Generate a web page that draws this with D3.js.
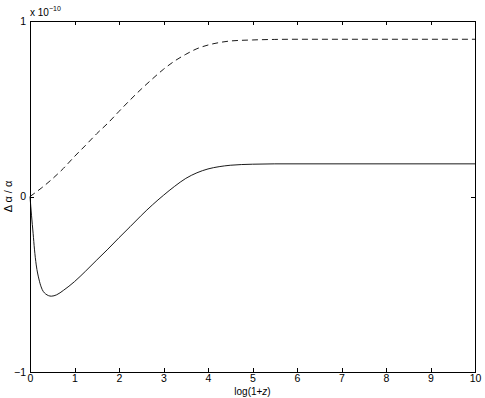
<!DOCTYPE html>
<html>
<head>
<meta charset="utf-8">
<script src="https://cdn.jsdelivr.net/npm/d3@7"></script>
<style>
  body { margin: 0; background: #fff; }
  text { font-family: "Liberation Sans", Arial, sans-serif; fill: #000; }
</style>
</head>
<body>
<svg id="chart" width="485" height="398"></svg>
<script>
// data, y in units of 1e-10
const xTicks = [0, 1, 2, 3, 4, 5, 6, 7, 8, 9, 10];
const yTicks = [-1, 0, 1];

const dashX = [0, 0.25, 0.5, 0.75, 1.0, 1.25, 1.5, 1.75, 2.0, 2.25, 2.5, 2.75, 3.0, 3.25, 3.5, 3.75, 4.0, 4.25, 4.5, 5.0, 5.5, 6.0, 10];
const dashY = [0, 0.047, 0.1, 0.16, 0.228, 0.292, 0.358, 0.418, 0.485, 0.55, 0.612, 0.67, 0.725, 0.772, 0.81, 0.842, 0.863, 0.877, 0.886, 0.892, 0.895, 0.896, 0.896];

const solidX = [0, 0.035, 0.07, 0.1, 0.14, 0.2, 0.25, 0.35, 0.48, 0.6, 0.75, 1.0, 1.25, 1.5, 1.75, 2.0, 2.25, 2.5, 2.75, 3.0, 3.25, 3.5, 3.75, 4.0, 4.25, 4.5, 5.0, 5.5, 6.0, 10];
const solidY = [0, -0.11, -0.21, -0.3, -0.39, -0.47, -0.515, -0.555, -0.568, -0.56, -0.535, -0.485, -0.425, -0.362, -0.3, -0.235, -0.172, -0.108, -0.048, 0.007, 0.058, 0.103, 0.135, 0.157, 0.17, 0.178, 0.184, 0.186, 0.186, 0.186];

var margin = {top: 21, right: 10, bottom: 26, left: 30},
    width = 485 - margin.left - margin.right,
    height = 398 - margin.top - margin.bottom;

var svg = d3.select('#chart');
var g = svg.append('g').attr('transform', 'translate(' + margin.left + ',' + margin.top + ')');

var x = d3.scaleLinear().domain([0, 10]).range([0, width]);
var y = d3.scaleLinear().domain([-1, 1]).range([height, 0]);

// box
g.append('rect')
    .attr('x', 0).attr('y', 0)
    .attr('width', width).attr('height', height)
    .attr('fill', 'none')
    .attr('stroke', '#000')
    .attr('stroke-width', 1)
    .attr('shape-rendering', 'crispEdges');

// axes with inward ticks
var xBottom = d3.axisBottom(x).tickValues(xTicks).tickSize(-4).tickPadding(3).tickFormat(d3.format('d'));
var xTop = d3.axisTop(x).tickValues(xTicks).tickSize(-4).tickFormat('');
var yLeft = d3.axisLeft(y).tickValues(yTicks).tickSize(-4).tickPadding(4).tickFormat(function(d) { return d < 0 ? '\u2212' + Math.abs(d) : d; });
var yRight = d3.axisRight(y).tickValues(yTicks).tickSize(-4).tickFormat('');

[
    g.append('g').attr('transform', 'translate(0,' + height + ')').call(xBottom),
    g.append('g').call(xTop),
    g.append('g').call(yLeft),
    g.append('g').attr('transform', 'translate(' + width + ',0)').call(yRight)
].forEach(function(ax) {
    ax.select('.domain').remove();
    ax.selectAll('line').attr('stroke', '#000').attr('shape-rendering', 'crispEdges');
    ax.selectAll('text').attr('font-size', 10.5).attr('fill', '#000')
        .style('font-family', '"Liberation Sans", Arial, sans-serif');
});

// lines
var line = d3.line()
    .x(function(d) { return x(d[0]); })
    .y(function(d) { return y(d[1]); })
    .curve(d3.curveMonotoneX);

g.append('path')
    .datum(dashX.map(function(v, i) { return [v, dashY[i]]; }))
    .attr('d', line)
    .attr('fill', 'none')
    .attr('stroke', '#000')
    .attr('stroke-width', 0.9)
    .attr('stroke-dasharray', '6,4');

g.append('path')
    .datum(solidX.map(function(v, i) { return [v, solidY[i]]; }))
    .attr('d', line)
    .attr('fill', 'none')
    .attr('stroke', '#000')
    .attr('stroke-width', 0.9);

// exponent label
var exp = svg.append('text')
    .attr('x', margin.left)
    .attr('y', 16)
    .attr('font-size', 10);
exp.append('tspan').text('x 10');
exp.append('tspan').attr('dy', -5).attr('font-size', 7).text('\u221210');

// axis labels
var xl = svg.append('text')
    .attr('x', margin.left + width / 2)
    .attr('y', 395)
    .attr('text-anchor', 'middle')
    .attr('font-size', 10);
xl.append('tspan').text('log(1+');
xl.append('tspan').attr('font-style', 'italic').text('z');
xl.append('tspan').text(')');

svg.append('text')
    .attr('transform', 'translate(12,' + (margin.top + height / 2) + ') rotate(-90)')
    .attr('text-anchor', 'middle')
    .attr('font-size', 11)
    .text('\u0394 \u03b1 / \u03b1');
</script>
</body>
</html>
